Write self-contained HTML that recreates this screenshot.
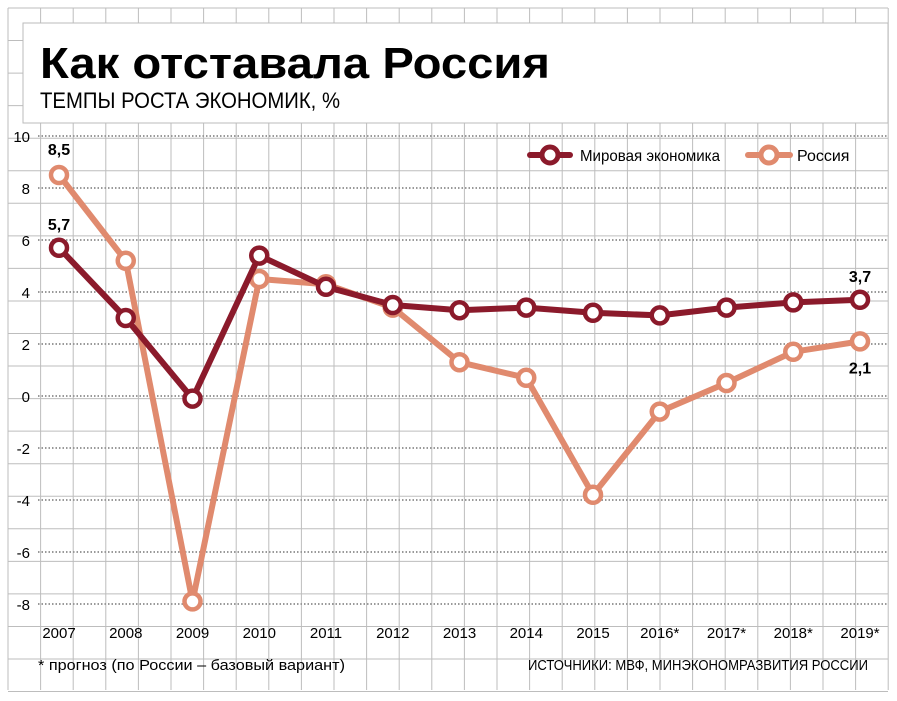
<!DOCTYPE html>
<html><head><meta charset="utf-8"><style>
html,body{margin:0;padding:0;background:#fff;width:897px;height:701px;overflow:hidden}
svg text{font-family:"Liberation Sans","DejaVu Sans",sans-serif}
</style></head><body>
<svg id="c" width="897" height="701" viewBox="0 0 897 701" xmlns="http://www.w3.org/2000/svg">
<g id="bggrid"></g>
<rect x="23" y="23" width="865" height="100" fill="#fff" stroke="#bbb" stroke-width="1"/>
<text x="40" y="78" font-size="44" font-weight="bold" fill="#000" textLength="510" lengthAdjust="spacingAndGlyphs">Как отставала Россия</text>
<text x="40" y="108" font-size="22" fill="#000" textLength="300" lengthAdjust="spacingAndGlyphs">ТЕМПЫ РОСТА ЭКОНОМИК, %</text>
<g id="yaxis"></g>
<g id="xaxis"></g>
<g id="series"></g>
<g>
<g>
<line x1="530" y1="155" x2="570" y2="155" stroke="#8b1a2b" stroke-width="6" stroke-linecap="round"/>
<circle cx="550" cy="155" r="8" fill="#fff" stroke="#8b1a2b" stroke-width="5"/>
<text x="580" y="161" font-size="16" fill="#000" textLength="140" lengthAdjust="spacingAndGlyphs">Мировая экономика</text></g>
<g>
<line x1="748" y1="155" x2="790" y2="155" stroke="#e08a6e" stroke-width="6" stroke-linecap="round"/>
<circle cx="769" cy="155" r="8" fill="#fff" stroke="#e08a6e" stroke-width="5"/>
<text x="797" y="161" font-size="16" fill="#000">Россия</text></g>
</g>
<text x="38" y="670" font-size="15" fill="#000" textLength="307" lengthAdjust="spacingAndGlyphs">* прогноз (по России – базовый вариант)</text>
<text x="528" y="670" font-size="15" fill="#000" textLength="340" lengthAdjust="spacingAndGlyphs">ИСТОЧНИКИ: МВФ, МИНЭКОНОМРАЗВИТИЯ РОССИИ</text>
</svg>
<script>
const years=["2007","2008","2009","2010","2011","2012","2013","2014","2015","2016*","2017*","2018*","2019*"];
const world=[5.7,3.0,-0.1,5.4,4.2,3.5,3.3,3.4,3.2,3.1,3.4,3.6,3.7];
const russia=[8.5,5.2,-7.9,4.5,4.3,3.4,1.3,0.7,-3.8,-0.6,0.5,1.7,2.1];
const yTicks=[10,8,6,4,2,0,-2,-4,-6,-8];
const NS="http://www.w3.org/2000/svg";
const X=i=>59+i*(860-59)/(years.length-1);
const Y=v=>396-v*26;
function mk(t,a,p){const e=document.createElementNS(NS,t);for(const k in a)e.setAttribute(k,a[k]);p.appendChild(e);return e;}
const bg=document.getElementById('bggrid');
for(let x=8;x<=890;x+=32.6){const l=mk('line',{x1:x,y1:8,x2:x,y2:690,stroke:'#bdbdbd','stroke-width':1},bg);

}
for(let y=8;y<=692;y+=32.55){const l=mk('line',{x1:8,y1:y,x2:888,y2:y,stroke:'#bdbdbd','stroke-width':1},bg);

}
const ya=document.getElementById('yaxis');
yTicks.forEach(v=>{
const l=mk('line',{x1:38,y1:Y(v),x2:888,y2:Y(v),stroke:'#999','stroke-width':2,'stroke-dasharray':'1.5 2'},ya);


const t=mk('text',{x:30,y:Y(v)+6,'font-size':15,'text-anchor':'end',fill:'#000'},ya);t.textContent=v;

});
const xa=document.getElementById('xaxis');
years.forEach((yr,i)=>{const t=mk('text',{x:X(i),y:638,'font-size':15,'text-anchor':'middle',fill:'#000'},xa);t.textContent=yr;

});
const sg=document.getElementById('series');
function draw(vals,col,name){
const g=mk('g',{},sg);


const p=mk('polyline',{points:vals.map((v,i)=>X(i)+','+Y(v)).join(' '),fill:'none',stroke:col,'stroke-width':6,'stroke-linejoin':'round'},g);


vals.forEach((v,i)=>{const c=mk('circle',{cx:X(i),cy:Y(v),r:8,fill:'#fff',stroke:col,'stroke-width':4.5},g);

});}
draw(russia,'#e08a6e','russia-series');
draw(world,'#8b1a2b','world-series');
function lab(txt,x,y){const t=mk('text',{x:x,y:y,'font-size':16,'font-weight':'bold','text-anchor':'middle',fill:'#000'},sg);t.textContent=txt;

}
const fmt=v=>String(v).replace('.',',');
lab(fmt(russia[0]),X(0),Y(russia[0])-20);
lab(fmt(world[0]),X(0),Y(world[0])-18);
lab(fmt(world[12]),X(12),Y(world[12])-18);
lab(fmt(russia[12]),X(12),Y(russia[12])+32);
</script>
</body></html>
